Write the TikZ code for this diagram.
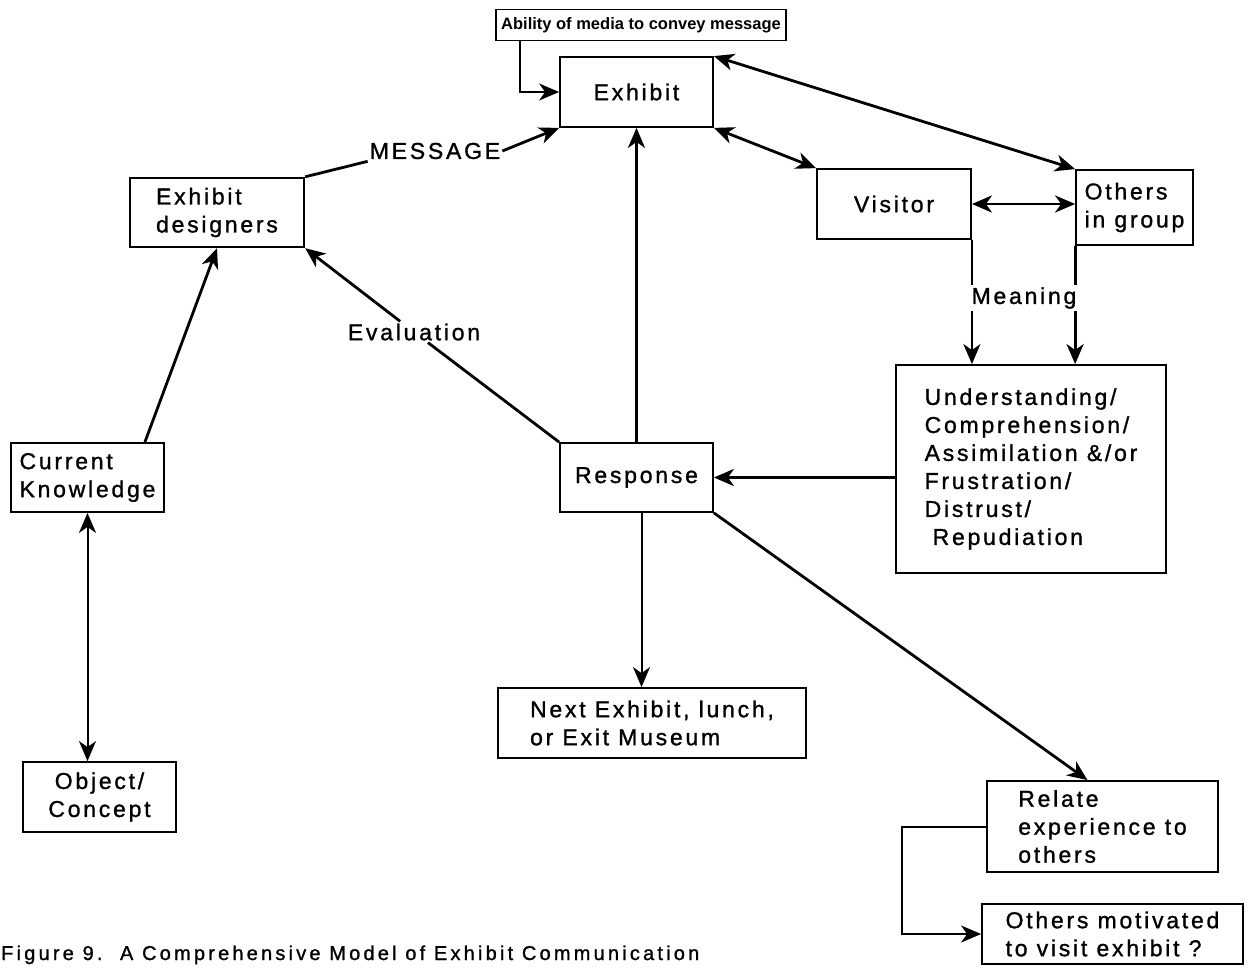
\documentclass[tikz,border=0pt]{standalone}
\usepackage{fontspec}
\setmainfont{Liberation Sans}[LetterSpace=12, FakeBold=1.2]
\newfontfamily\mediafont{Liberation Sans}
\newfontfamily\captionfont{Liberation Sans}[LetterSpace=16, FakeBold=1.2]
\usetikzlibrary{arrows.meta}

\begin{document}
\begin{tikzpicture}
	[
		x = 1pt, y = -1pt,
		box/.style = {draw, line width=1.8pt, inner sep=0pt, align=left},
		plain/.style = {inner sep=2pt},
		link/.style = {line width=2.8pt},
		thin link/.style = {line width=2pt},
		tip/.style = {-{Stealth[length=20pt,width=17pt,inset=6pt]}},
		both tips/.style = {{Stealth[length=20pt,width=17pt,inset=6pt]}-{Stealth[length=20pt,width=17pt,inset=6pt]}},
		every node/.append style = {font=\fontsize{23}{28}\selectfont}
	]

	\useasboundingbox (0,0) rectangle (1248,974);

	\node[box, minimum width=290pt, minimum height=31pt, font=\mediafont\bfseries\fontsize{16.5}{18}\selectfont] (media) at (641,25) {Ability of media to convey message};
	\node[box, minimum width=153pt, minimum height=70pt] (exhibit) at (636.5,92) {Exhibit};
	\node[box, line width=2.4pt, minimum width=174pt, minimum height=69pt] (designers) at (217,212.5) {Exhibit\\designers};
	\node[box, minimum width=154pt, minimum height=70pt] (visitor) at (894,204) {Visitor};
	\node[box, minimum width=117pt, minimum height=75pt] (group) at (1134.5,207.5) {Others\\in group};
	\node[box, minimum width=270pt, minimum height=208pt] (understanding) at (1031,469) {Understanding/\\Comprehension/\\Assimilation \&/or\\Frustration/\\Distrust/\\\hspace{8pt}Repudiation};
	\node[box, minimum width=153pt, minimum height=69pt] (knowledge) at (87.5,477.5) {Current\\Knowledge};
	\node[box, minimum width=153pt, minimum height=70pt, align=center] (object) at (99.5,797) {Object/\\Concept};
	\node[box, minimum width=153pt, minimum height=69pt] (response) at (636.5,477.5) {Response};
	\node[box, minimum width=308pt, minimum height=70pt] (next) at (652,723) {Next Exhibit, lunch,\\or Exit Museum};
	\node[box, minimum width=231pt, minimum height=91pt] (relate) at (1102.5,826.5) {Relate\\experience to\\others};
	\node[box, minimum width=261pt, minimum height=60pt] (motivated) at (1112.5,934) {Others motivated\\to visit exhibit ?};

	\node[plain] (message) at (435,151) {MESSAGE};
	\node[plain] (evaluation) at (414,332) {Evaluation};
	\node[plain] (meaning) at (1024,298) {Meaning};
	\node[plain, inner sep=0pt, anchor=base west, font=\captionfont\fontsize{20}{22}\selectfont] (caption) at (1,960) {Figure 9.\ \ A Comprehensive Model of Exhibit Communication};

	\draw[thin link, tip] ([xshift=25pt]media.south west) |- (exhibit.west);
	\draw[link] (designers.north east) -- (message.south west);
	\draw[link, tip] (message.east) -- (exhibit.south west);
	\draw[link, both tips] (exhibit.north east) -- (group.north west);
	\draw[link, both tips] (exhibit.south east) -- (visitor.north west);
	\draw[link, both tips] (visitor.east) -- (visitor.east -| group.west);
	\draw[link] (visitor.south east) -- (visitor.south east |- meaning.north);
	\draw[link, tip] (visitor.south east |- meaning.south) -- (visitor.south east |- understanding.north);
	\draw[link] (group.south west) -- (group.south west |- meaning.north);
	\draw[link, tip] (group.south west |- meaning.south) -- (group.south west |- understanding.north);
	\draw[link, tip] (understanding.west |- response.east) -- (response.east);
	\draw[link, tip] (response.north) -- (exhibit.south);
	\draw[link] (response.north west) -- (evaluation);
	\draw[link, tip] (evaluation) -- (designers.south east);
	\draw[link, tip] ([xshift=-20pt]knowledge.north east) -- (designers.south);
	\draw[thin link, both tips] (knowledge.south) -- (knowledge.south |- object.north);
	\draw[thin link, tip] ([xshift=5pt]response.south) -- ([xshift=5pt]response.south |- next.north);
	\draw[link, tip] (response.south east) -- ([xshift=-15pt]relate.north);
	\draw[thin link, tip] (relate.west) -- ++(-84,0) |- (motivated.west);
\end{tikzpicture}
\end{document}
